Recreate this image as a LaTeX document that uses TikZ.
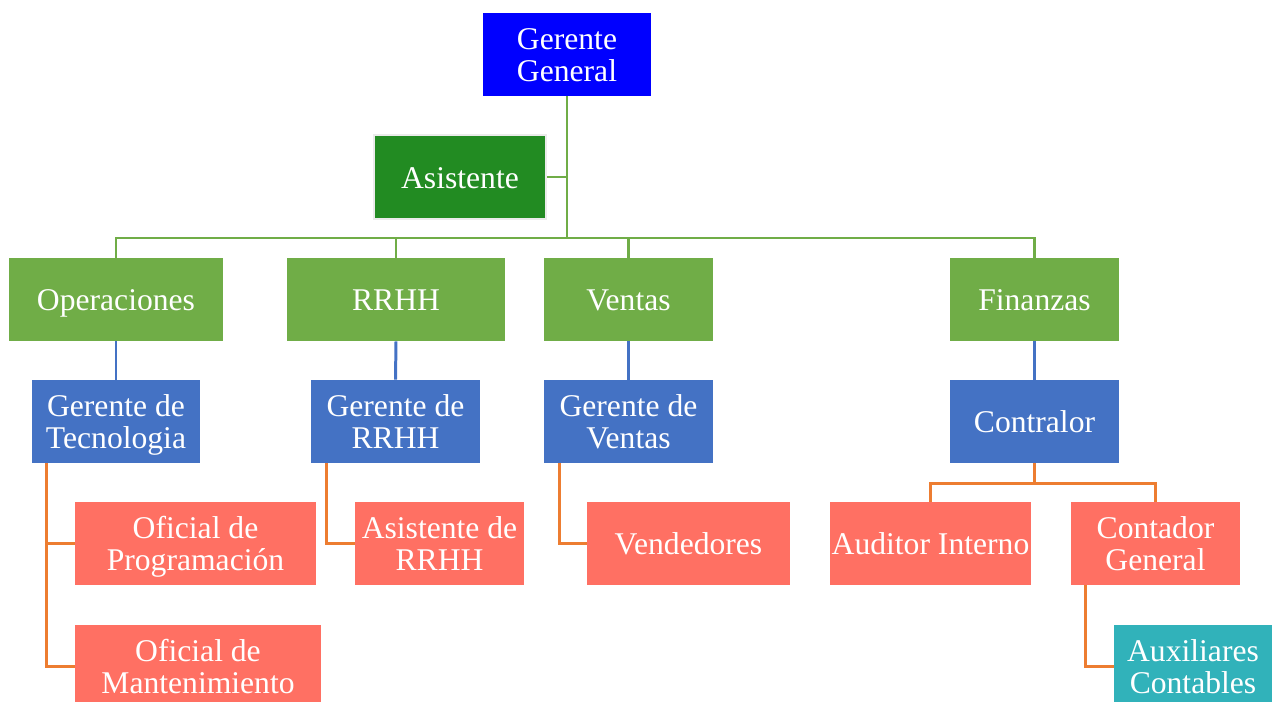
\documentclass[tikz,border=0pt]{standalone}
\usepackage{fontspec}
\setmainfont{Liberation Serif}
\definecolor{jefe}{HTML}{0000FF}
\definecolor{asisverde}{HTML}{228B22}
\definecolor{areaverde}{HTML}{70AD47}
\definecolor{gerazul}{HTML}{4472C4}
\definecolor{salmon}{HTML}{FF7063}
\definecolor{turquesa}{HTML}{31B2BA}
\definecolor{naranja}{HTML}{ED7D31}
\begin{document}
\begin{tikzpicture}[x=0.02cm, y=-0.02cm,
    caja/.style={minimum height=1.66cm, inner sep=0pt, align=center, text=white,
      font=\fontsize{18}{18.2}\selectfont,
      execute at begin node=\rule{0pt}{16.5pt},
      execute at end node=\rule[-3.9pt]{0pt}{3.9pt}},
    dos/.style={execute at begin node=\rule{0pt}{35pt}},
    verde/.style={caja, fill=areaverde},
    azul/.style={caja, fill=gerazul},
    rojo/.style={caja, fill=salmon},
    glink/.style={areaverde, line width=1.7pt},
    blink/.style={gerazul, line width=1.7pt},
    olink/.style={naranja, line width=1.7pt}]
    \useasboundingbox (0,0) rectangle (1272,702);
    \clip (0,0) rectangle (1272,702);
    % top
    \node[caja, dos, fill=jefe, minimum width=3.36cm] (gg) at (567,54.5) {Gerente\\General};
    \node[caja, fill=asisverde, draw=black!8, line width=1pt, minimum width=3.44cm, minimum height=1.68cm] (asis) at (460,177) {Asistente};
    % areas
    \node[verde, minimum width=4.28cm] (ops) at (116,299.5) {Operaciones};
    \node[verde, minimum width=4.36cm] (rh) at (396,299.5) {RRHH};
    \node[verde, minimum width=3.38cm] (ven) at (628.5,299.5) {Ventas};
    \node[verde, minimum width=3.38cm] (fin) at (1034.5,299.5) {Finanzas};
    % gerentes
    \node[azul, dos, minimum width=3.36cm] (gtec) at (116,421.5) {Gerente de\\Tecnologia};
    \node[azul, dos, minimum width=3.38cm] (grh) at (395.5,421.5) {Gerente de\\RRHH};
    \node[azul, dos, minimum width=3.38cm] (gven) at (628.5,421.5) {Gerente de\\Ventas};
    \node[azul, minimum width=3.38cm] (contra) at (1034.5,421.5) {Contralor};
    % personal
    \node[rojo, dos, minimum width=4.82cm] (oprog) at (195.5,543.5) {Oficial de\\Programación};
    \node[rojo, dos, minimum width=4.92cm] (omant) at (198,666.5) {Oficial de\\Mantenimiento};
    \node[rojo, dos, minimum width=3.38cm] (arh) at (439.5,543.5) {Asistente de\\RRHH};
    \node[rojo, minimum width=4.06cm] (vend) at (688.5,543.5) {Vendedores};
    \node[rojo, minimum width=4.02cm] (audi) at (930.5,543.5) {Auditor Interno};
    \node[rojo, dos, minimum width=3.38cm] (cgen) at (1155.5,543.5) {Contador\\General};
    \node[caja, dos, fill=turquesa, minimum width=3.16cm] (aux) at (1193,666.5) {Auxiliares\\Contables};
    % conectores
    \coordinate (bus) at (0,238);
    \draw[glink] (gg.south) -- (gg.south |- bus);
    \draw[glink] (asis.east) -- (asis.east -| gg.south);
    \draw[glink] (ops.north) -- (ops.north |- bus) -- (fin.north |- bus) -- (fin.north);
    \draw[glink] (rh.north) -- (rh.north |- bus);
    \draw[glink] (ven.north) -- (ven.north |- bus);
    \draw[blink] (ops.south) -- (gtec.north);
    \draw[blink] (rh.south) -- (grh.north);
    \draw[blink] (ven.south) -- (gven.north);
    \draw[blink] (fin.south) -- (contra.north);
    \draw[olink] (gtec.south west) ++(15,0) |- (omant.west);
    \draw[olink] (gtec.south west) ++(15,0) |- (oprog.west);
    \draw[olink] (grh.south west) ++(16,0) |- (arh.west);
    \draw[olink] (gven.south west) ++(16,0) |- (vend.west);
    \draw[olink] (contra.south) -- ++(0,20) -| (audi.north);
    \draw[olink] (contra.south) ++(0,20) -| (cgen.north);
    \draw[olink] (cgen.south west) ++(15,0) |- (aux.west);
\end{tikzpicture}
\end{document}
